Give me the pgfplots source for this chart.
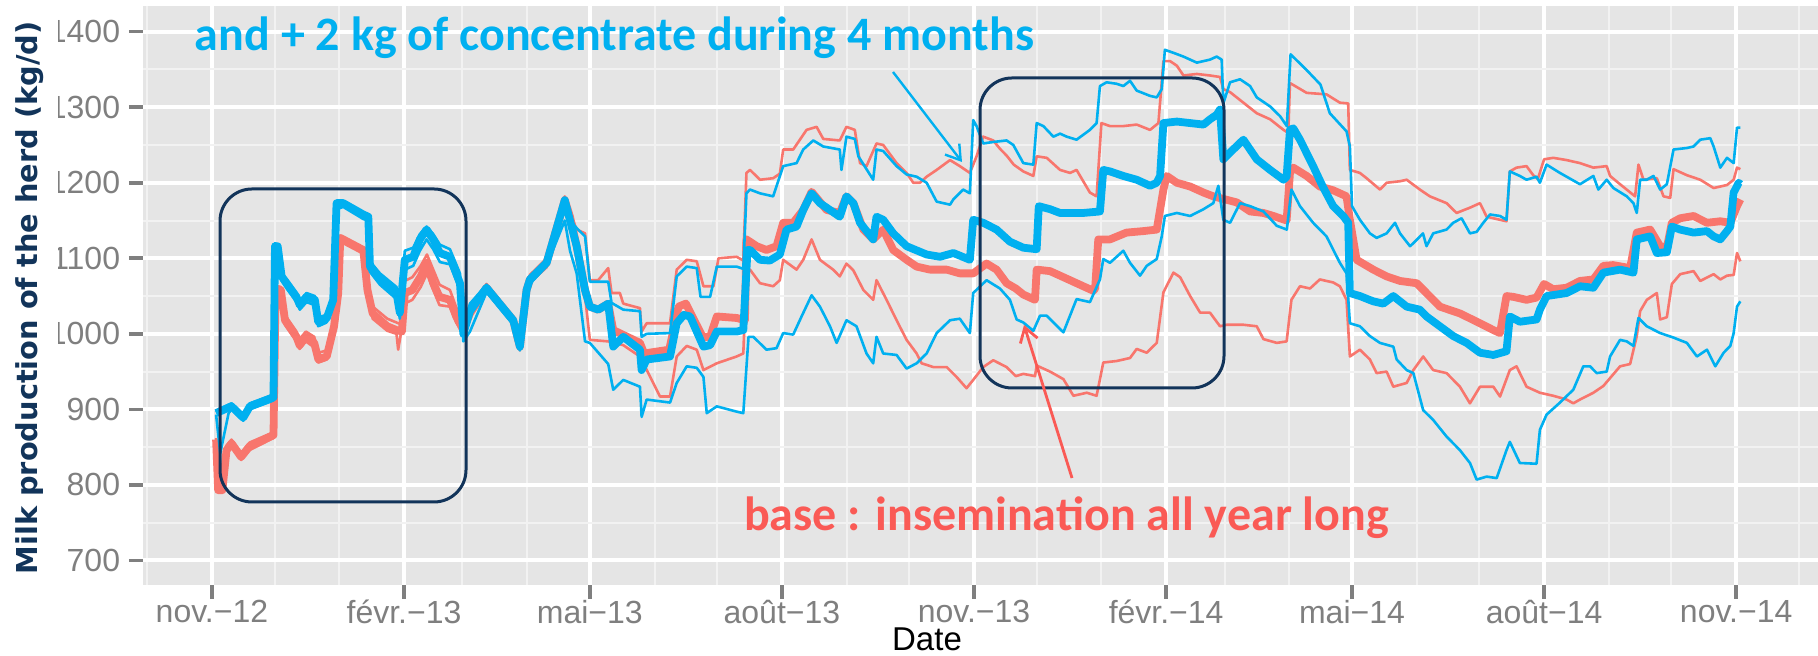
\documentclass[border=0pt]{standalone}
\usepackage{pgfplots}
\pgfplotsset{compat=1.18}
\usepackage{fontspec}
\setmainfont{Liberation Sans}
\newfontfamily\calibri{Carlito}
\newfontfamily\dejavu{DejaVu Sans}
\usetikzlibrary{arrows.meta}
\definecolor{ggbg}{HTML}{E5E5E5}
\definecolor{gridminor}{HTML}{F2F2F2}
\definecolor{labgray}{HTML}{7F7F7F}
\definecolor{rline}{HTML}{F8766D}
\definecolor{bline}{HTML}{00B0F0}
\definecolor{navy}{HTML}{12345A}
\definecolor{rtext}{HTML}{FA5A55}
\begin{document}
\begin{tikzpicture}
\path[use as bounding box] (-71.5pt,-35.5pt) rectangle (837.5pt,292.5pt);
\begin{scope}
\clip (-42.25pt,-40pt) rectangle (840pt,300pt);
\begin{axis}[
  at={(0,0)}, anchor=south west,
  scale only axis, width=837.5pt, height=289.5pt,
  xmin=-33, xmax=769.2, ymin=667.5, ymax=1434,
  axis background/.style={fill=ggbg},
  axis line style={draw=none},
  xtick={0,92,181,273,365,457,546,638,730},
  xticklabels={nov.−12,févr.−13,mai−13,août−13,nov.−13,févr.−14,mai−14,août−14,nov.−14},
  minor xtick={-31,30,61,120,151,212,242,304,334,395,426,485,516,577,607,669,699,760},
  ytick={700,800,900,1000,1100,1200,1300,1400},
  yticklabels={700,800,900,1000,1100,1200,1300,1400},
  minor ytick={750,850,950,1050,1150,1250,1350},
  grid=both,
  major grid style={white, line width=2pt},
  minor grid style={gridminor, line width=1pt},
  tick align=outside, major tick length=7pt, minor tick length=0pt,
  major tick style={labgray, line width=1.8pt},
  xtick pos=left, ytick pos=left,
  tick label style={font=\fontsize{16}{19}\selectfont, text=labgray},
  xticklabel style={yshift=3pt},
  yticklabel style={inner xsep=4.25pt, xshift=0pt},
  thin/.style={line width=1.3pt, line join=round},
  thick/.style={line width=3.9pt, line join=round},
]
% red upper
\addplot[rline, thin] coordinates {(2,862) (3,800) (5,805) (7,852) (9.4,860) (14,842) (18,856) (28,868) (29.5,870) (30.5,1064) (33,1062) (35,1025) (40.5,1003) (42,993) (45,1003) (49,996) (51,975) (55,978) (58.5,1020) (60.5,1060) (61.5,1130) (72.5,1114) (74.5,1065) (77,1036) (84,1020) (88.4,1015) (91,1012) (92.4,1070) (96,1075) (100,1090) (103,1105) (106,1085) (109,1065) (114,1058) (117,1035) (120.4,1012) (123.6,1032) (131.5,1066) (144.3,1022) (147.5,990) (150.7,1062) (152.3,1078) (160.3,1100) (169,1182) (171.5,1160) (174.7,1138) (178.7,1133) (181,1071) (185,1071) (189.8,1087) (191.4,1054) (195.4,1054) (197,1040) (205,1034) (205.8,1003) (208.2,1014) (219.4,1014) (222.6,1085) (227.4,1098) (232.2,1096) (235.4,1063) (240.2,1063) (242.6,1100) (251.3,1102) (254.5,1097) (256,1213) (257.7,1217) (262.5,1204) (268.8,1206) (272,1212) (273.6,1244) (278.4,1244) (284.8,1270) (289.6,1274) (292.8,1258) (300.7,1256) (303.9,1274) (307.9,1270) (310.4,1226) (313.5,1222) (318.3,1252) (321.5,1250) (327.9,1226) (332.7,1213) (335.9,1200) (339.1,1200) (342.3,1208) (347.1,1217) (353.5,1230) (358.2,1222) (363,1213) (366.2,1235) (369.4,1261) (374.2,1256) (377.4,1245) (380.6,1236) (384,1224) (388.6,1215) (393.4,1209) (395,1235) (399.8,1233) (406.2,1217) (411,1213) (414.1,1217) (420.5,1187) (423.7,1182) (426,1279) (430.1,1275) (436.5,1275) (442.9,1277) (449.3,1270) (453.3,1279) (455.7,1361) (458.9,1361) (462.1,1355) (465.3,1342) (471.7,1344) (478,1342) (482.8,1340) (484.4,1324) (487.6,1320) (494,1306) (500.4,1292) (506.8,1284) (513.2,1270) (515.5,1266) (516.3,1332) (524.3,1319) (533.8,1317) (540.2,1306) (544.2,1305) (545,1217) (549.8,1213) (553,1206) (559.4,1191) (562.6,1200) (569,1202) (572.2,1204) (578.5,1191) (583.3,1182) (591.3,1173) (596.1,1160) (602.5,1167) (607.3,1173) (610.5,1155) (620,1149) (621.6,1215) (624.8,1220) (629.6,1222) (632.8,1210) (635,1205) (638,1231) (642.4,1233) (648.8,1230) (655.2,1226) (661.6,1220) (668,1222) (669.6,1209) (674.4,1198) (681.6,1182) (683.2,1224) (685.6,1204) (692,1206) (695.2,1182) (698.4,1180) (700,1218) (706.4,1210) (712.8,1204) (719.2,1193) (725.6,1197) (728.8,1204) (730.4,1220) (732,1218)};
% red lower
\addplot[rline, thin] coordinates {(2,858) (3,790) (5,790) (7,840) (9.4,850) (14,833) (18,846) (28,860) (29.5,862) (30.5,1050) (33,1052) (35,1012) (40.5,990) (42,980) (45,990) (49,982) (51,962) (55,966) (58.5,1004) (60.5,1048) (61.5,1122) (72.5,1106) (74.5,1052) (77,1020) (84,1004) (88.4,1000) (89.2,979) (90.5,1000) (92.4,1040) (96,1045) (100,1062) (103,1080) (106,1058) (109,1038) (114,1036) (117,1015) (120.4,1000) (123.6,1022) (131.5,1056) (144.3,1014) (147.5,978) (150.7,1054) (152.3,1068) (160.3,1088) (169,1165) (174.7,1110) (178.7,1050) (181,992) (189.8,990) (197,985) (205,970) (214.6,917) (219.4,917) (222.6,970) (227.4,984) (232.2,979) (235.4,952) (241.8,961) (251.3,970) (254.5,974) (256,1080) (257.7,1085) (262.5,1067) (268.8,1063) (272,1071) (273.6,1098) (280,1085) (283.2,1098) (287.2,1125) (291.2,1098) (297.5,1085) (300.7,1076) (303.9,1093) (307.2,1084) (312,1058) (316.7,1045) (318.3,1071) (323.1,1045) (327.9,1018) (332.7,992) (337.5,974) (339.9,961) (345.5,956) (351.9,956) (356.6,943) (361.4,928) (364.6,939) (369.4,956) (374.2,965) (380.6,956) (385,944) (388.6,947) (394.2,944) (395,958) (401.4,950) (407.8,940) (412.6,918) (419,922) (423.7,918) (426.9,962) (433.3,964) (439.7,968) (442.9,980) (447.7,975) (452.5,988) (455.7,1055) (460.5,1081) (463.7,1075) (468.5,1050) (473.3,1028) (478,1028) (482.8,1010) (486,1012) (494,1012) (500.4,1010) (503.6,993) (510,988) (514.7,990) (517,1045) (521.1,1063) (525.9,1060) (530.6,1072) (537,1068) (540.2,1063) (543.4,1045) (545,970) (549.8,979) (554.6,966) (557.8,948) (562.6,950) (565.8,930) (572.2,935) (575.4,952) (580.1,970) (584.9,952) (591.3,948) (597.7,930) (602.5,908) (607.3,930) (613.7,930) (616.9,917) (621.6,952) (624.8,957) (629.6,930) (636,922) (642.4,918) (648.8,913) (652,908) (655.2,913) (661.6,922) (666.4,931) (674.4,957) (679.2,960) (682.4,997) (684,1030) (687.2,1045) (692,1054) (693.6,1019) (696.8,1022) (699.2,1066) (703.2,1079) (709.6,1083) (712.8,1070) (719.2,1079) (722.4,1072) (725.6,1077) (728.8,1078) (730.4,1107) (732,1096)};
% red median
\addplot[rline, thick] coordinates {(2,860) (3,793) (5,793) (7,846) (9.4,855) (14,837) (18,851) (28,864) (29.5,866) (30.5,1058) (33,1058) (35,1018) (40.5,996) (42,985) (45,996) (49,988) (51,966) (55,970) (58.5,1010) (60.5,1054) (61.5,1127) (72.5,1111) (74.5,1058) (77,1027) (84,1010) (88.4,1005) (91,1003) (92.4,1054) (96,1058) (100,1076) (103,1094) (106,1067) (109,1049) (114,1045) (117,1023) (120.4,1005) (123.6,1027) (131.5,1061) (144.3,1018) (147.5,983) (150.7,1058) (152.3,1072) (160.3,1094) (169,1177) (171.5,1155) (174.7,1116) (178.7,1058) (181,1036) (185,1032) (189.8,1040) (192.2,1005) (205,988) (207,974) (219,979) (223.5,1036) (227,1040) (235,996) (238.6,996) (241.8,1023) (251.3,1021) (255.3,1018) (256,1125) (260.9,1116) (265.6,1111) (270.4,1116) (273.6,1147) (278.4,1147) (283.2,1164) (287.2,1188) (294.4,1164) (300.7,1160) (303.9,1182) (307.2,1173) (312,1138) (316.7,1125) (321.5,1138) (326.3,1111) (332.7,1098) (337.5,1089) (343.9,1085) (351.9,1085) (358.2,1080) (364.6,1080) (371,1093) (375.8,1085) (380.6,1067) (385,1060) (388.6,1052) (394.2,1045) (395,1085) (401.4,1083) (407.8,1075) (417.3,1063) (422.1,1057) (423,1060) (424.5,1125) (430.1,1125) (438,1134) (446.1,1136) (452.5,1138) (455.7,1191) (457.3,1209) (462.1,1200) (468.5,1195) (474.9,1187) (479.6,1182) (485.2,1178) (490.8,1174) (497.2,1162) (503.6,1160) (508.4,1156) (514.7,1150) (516.3,1213) (517.9,1220) (524.3,1209) (530.6,1195) (537,1190) (543.4,1182) (545,1151) (548.2,1098) (556.2,1085) (562.6,1076) (569,1070) (577,1067) (581.7,1054) (588.1,1036) (597.7,1027) (607.3,1014) (613.7,1005) (616.9,1001) (620,1050) (623.2,1049) (629.6,1045) (634.4,1048) (638,1066) (642.4,1059) (648.8,1061) (655.2,1070) (661.6,1072) (666.4,1090) (671,1091) (679.2,1087) (682.4,1134) (688.8,1138) (693.6,1116) (696.8,1114) (699.2,1147) (703.2,1153) (709.6,1156) (716,1147) (722.4,1149) (727.2,1147) (730.4,1169) (732,1178)};
% blue upper
\addplot[bline, thin] coordinates {(2,897) (3,900) (9.4,908) (15,893) (18.2,908) (27.8,918) (29.5,920) (30.2,1120) (31.5,1118) (33.4,1080) (35.8,1072) (40.5,1054) (42.1,1044) (45.3,1054) (49.3,1050) (50.9,1022) (54.9,1025) (58.1,1050) (59.7,1176) (62.9,1176) (72.5,1160) (74.9,1157) (75.7,1096) (80.5,1080) (88.4,1062) (90,1035) (92.4,1110) (96.4,1114) (99.6,1132) (102.8,1142) (106,1132) (109.2,1118) (114,1112) (118.8,1080) (120.4,1010) (123.6,1040) (131.5,1065) (144.3,1022) (147.5,987) (150.7,1062) (152.3,1076) (160.3,1098) (169,1177) (171.5,1150) (174.7,1140) (178.7,1129) (181,1069) (189.8,1069) (191.4,1041) (197,1032) (205,1030) (205.8,996) (208.2,1000) (219.4,1001) (222.6,1076) (227.4,1089) (232.2,1087) (234,1049) (238.6,1049) (241.8,1089) (251.3,1089) (254.5,1086) (256,1186) (257.7,1191) (262.5,1186) (268.8,1182) (273.6,1222) (280,1226) (283.2,1244) (288,1256) (292.8,1248) (300.7,1244) (301.5,1217) (303.9,1261) (307.9,1258) (309.6,1235) (316.7,1204) (318.3,1244) (321.5,1242) (327.9,1222) (332.7,1211) (337.5,1208) (342.3,1200) (347.1,1175) (353.5,1171) (355.1,1178) (359.8,1191) (363,1186) (364.6,1283) (366.2,1275) (369.4,1252) (374.2,1254) (380.6,1256) (383.8,1250) (388.6,1226) (393.4,1224) (395,1279) (398.2,1275) (403,1261) (406.2,1265) (409.4,1261) (414.1,1257) (420.5,1270) (423.7,1279) (425.3,1328) (428.5,1333) (433.3,1331) (436.5,1328) (439.7,1335) (442.9,1322) (449.3,1315) (452.5,1313) (454.9,1324) (456.4,1376) (460.5,1372) (465.3,1367) (471.7,1359) (478,1363) (481.2,1367) (483.6,1363) (484.4,1305) (487.6,1333) (492.4,1337) (497.2,1328) (500.4,1313) (506.8,1301) (511.6,1288) (514.8,1275) (516.6,1370) (524,1350) (530.9,1330) (535.4,1292) (543.4,1268) (545,1248) (546,1169) (549.8,1151) (554.6,1133) (557.8,1127) (562.6,1133) (566.6,1147) (569,1133) (573.8,1116) (575.4,1120) (580,1133) (581.7,1116) (584.9,1133) (591.3,1138) (594.5,1147) (598.5,1153) (602.5,1133) (605.7,1135) (608.9,1147) (612.1,1158) (616.9,1156) (620,1151) (621.6,1215) (626.4,1209) (629.6,1204) (634.4,1208) (636,1200) (639.2,1224) (645.6,1213) (655.2,1198) (661.6,1209) (664,1191) (668,1204) (671.2,1193) (677.6,1182) (680.8,1173) (682.4,1160) (684,1204) (687.2,1204) (690.4,1209) (693.6,1191) (696.8,1198) (700,1244) (706.4,1246) (709.6,1248) (712.8,1257) (717.6,1259) (719.2,1248) (722.4,1220) (725.6,1233) (728.8,1226) (730.4,1273) (732,1273)};
% blue lower
\addplot[bline, thin] coordinates {(2,893) (4,842) (8,895) (9.4,900) (15,885) (18.2,900) (27.8,910) (29.5,912) (30.2,1105) (31.5,1110) (33.4,1070) (35.8,1060) (40.5,1042) (42.1,1032) (45.3,1042) (49.3,1038) (50.9,1010) (54.9,1015) (58.1,1038) (59.7,1165) (62.9,1168) (72.5,1152) (74.9,1150) (75.7,1082) (80.5,1065) (88.4,1046) (90,1020) (92.4,1085) (96.4,1090) (99.6,1110) (102.8,1125) (106,1112) (109.2,1095) (114,1092) (118.8,1058) (120.4,990) (123.6,1003) (131.5,1055) (144.3,1012) (147.5,978) (150.7,1052) (152.3,1066) (160.3,1090) (169,1150) (171.5,1110) (174.7,1080) (178.7,990) (181,988) (189.8,960) (192.2,926) (197,939) (205,930) (205.8,890) (208.2,913) (219.4,909) (222.6,935) (227.4,957) (232.2,955) (235.4,943) (237,895) (241.8,904) (251.3,897) (254.5,895) (257,996) (259.3,996) (265.6,979) (270.4,981) (273.6,1001) (278.4,999) (282.4,1023) (287.2,1051) (291.2,1036) (296,1010) (299.2,988) (303.9,1018) (308.7,1010) (313.5,974) (316.7,961) (318.3,996) (321.5,974) (327.9,972) (332.7,954) (337.5,961) (342.3,974) (347.1,1001) (353.5,1018) (358.2,1020) (363,1001) (364.6,1054) (371,1071) (377.4,1060) (382.2,1045) (385.4,1019) (388.6,1015) (393.4,1004) (396.6,1024) (399.8,1024) (407.8,1002) (414.1,1046) (420.5,1042) (425.3,1072) (426.9,1099) (430.1,1094) (436.5,1110) (439.7,1094) (444.5,1077) (447.7,1090) (452.5,1099) (454.9,1129) (456.4,1156) (462.1,1160) (468.5,1156) (474.9,1165) (479.6,1173) (482,1196) (484.4,1151) (487.6,1147) (492.4,1173) (497.2,1169) (503.6,1162) (510,1143) (514.8,1138) (517,1191) (521.1,1169) (527.4,1147) (533.8,1129) (540.2,1094) (543.4,1080) (545,1014) (549.8,1010) (554.6,997) (559.4,988) (565.8,983) (567.4,966) (572.2,952) (575.4,948) (580.1,899) (584.9,886) (591.3,864) (597.7,846) (602.5,829) (605.7,807) (610.5,811) (615.3,809) (620,846) (621.6,857) (626.4,829) (634.4,828) (636,873) (639.2,893) (645.6,909) (652,926) (656.8,957) (660,957) (663.2,948) (668,950) (669.6,970) (674.4,992) (677.6,990) (680.8,984) (683.2,1021) (687.2,1010) (693.6,1001) (700,995) (706.4,988) (711.2,970) (716,979) (720,957) (724,975) (727.2,984) (728.8,1001) (730.4,1036) (732,1043)};
% blue median
\addplot[bline, thick] coordinates {(2,895) (9.4,904) (15,889) (18.2,904) (27.8,914) (29.5,916) (30.2,1116) (31.5,1116) (33.4,1076) (35.8,1067) (40.5,1049) (42.1,1038) (45.3,1049) (49.3,1045) (50.9,1016) (54.9,1020) (58.1,1045) (59.7,1173) (62.9,1173) (72.5,1158) (74.9,1155) (75.7,1089) (80.5,1072) (88.4,1054) (90,1028) (92.4,1098) (96.4,1102) (99.6,1125) (102.8,1138) (106,1125) (109.2,1107) (114,1102) (118.8,1067) (120.4,1000) (123.6,1030) (131.5,1061) (144.3,1018) (147.5,983) (150.7,1058) (152.3,1072) (160.3,1094) (169,1177) (171.5,1150) (174.7,1116) (178.7,1058) (181,1036) (185,1032) (189.8,1040) (192.2,983) (197,996) (205,979) (205.8,952) (208.2,966) (219.4,970) (222.6,1014) (226,1025) (229,1023) (235.4,983) (238.6,985) (241.8,1003) (251.3,1003) (254.5,1005) (256.5,1111) (257.7,1111) (262.5,1098) (267.2,1097) (272,1105) (275.2,1138) (280,1142) (283.2,1164) (287.2,1186) (291.2,1173) (296,1164) (300.7,1155) (303.9,1182) (307.2,1173) (310.4,1147) (316.7,1125) (318.3,1155) (321.5,1151) (326.3,1133) (332.7,1116) (342.3,1105) (348.7,1102) (355.1,1107) (363,1098) (364.6,1151) (369.4,1147) (375.8,1138) (382.2,1122) (388.6,1114) (395,1112) (396,1169) (401.4,1165) (406.2,1160) (417.3,1160) (425.3,1162) (426.9,1217) (430.1,1215) (436.5,1209) (442.9,1204) (449.3,1196) (452.5,1200) (454.1,1209) (455.7,1279) (462.1,1281) (468.5,1279) (474.9,1277) (478,1284) (481.2,1290) (482.8,1297) (484.4,1231) (487.6,1240) (494,1257) (500.4,1231) (506.8,1217) (513.2,1204) (514.7,1208) (516.3,1270) (517.9,1272) (521.1,1257) (527.4,1222) (532,1195) (537,1169) (541.8,1156) (544.2,1147) (545,1054) (549.8,1050) (556.2,1043) (561,1040) (565.8,1050) (572.2,1036) (578.5,1032) (581.7,1023) (588.1,1010) (594.5,997) (600.9,988) (607.3,975) (613.7,972) (620,977) (621.6,1023) (626.4,1016) (634.4,1019) (636,1032) (639.2,1050) (648.8,1054) (655.2,1063) (661.6,1061) (666.4,1081) (674.4,1085) (680.8,1081) (682.4,1125) (688.8,1129) (692,1107) (696.8,1108) (699.2,1142) (703.2,1138) (709.6,1134) (716,1136) (719.2,1129) (722.4,1125) (725.6,1136) (727.2,1142) (728.8,1187) (731.2,1200) (732,1198)};
\end{axis}
\end{scope}
% annotations
\draw[navy, line width=1.5pt, rounded corners=16pt] (38.5pt,41.5pt) rectangle (161.5pt,198pt);
\draw[navy, line width=1.5pt, rounded corners=16pt] (418.5pt,98.5pt) rectangle (540.5pt,253.5pt);
\draw[bline, line width=1.2pt, -{Straight Barb[length=7pt,width=9pt]}] (375pt,256.5pt) -- (409.5pt,211.5pt);
\draw[rtext, line width=1.4pt, -{Straight Barb[length=7pt,width=9pt]}] (464.5pt,53.5pt) -- (440.5pt,130pt);
\node[text=bline, font=\calibri\bfseries\fontsize{24}{28}\selectfont, inner sep=0pt] at (235.75pt,273.5pt) {and + 2 kg of concentrate during 4 months};
\node[text=rtext, font=\calibri\bfseries\fontsize{24}{28}\selectfont, inner sep=0pt] at (461.75pt,33.5pt) {base : insemination all year long};
\node[text=navy, font=\dejavu\bfseries\fontsize{14.4}{17}\selectfont, rotate=90, inner sep=0pt] at (-56.5pt,143.5pt) {Milk production of the herd (kg/d)};
\node[text=black, font=\fontsize{16.5}{19}\selectfont, inner sep=0pt] at (392pt,-27pt) {Date};
\end{tikzpicture}
\end{document}
